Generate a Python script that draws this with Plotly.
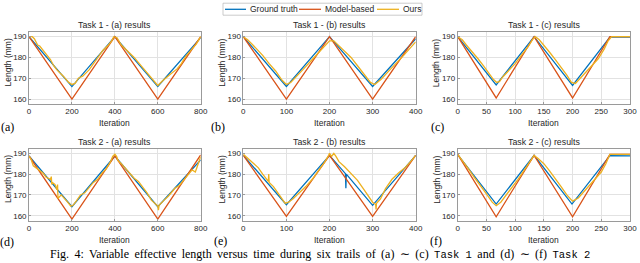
import plotly.graph_objects as go

W, H = 640, 263

# ---------------- data ----------------
# Task 1 - (a)
t1a_gt_x = [0, 200, 400, 600, 800]
t1a_gt_y = [190, 166, 190, 166, 189.5]
t1a_mb_x = [0, 200, 400, 600, 800]
t1a_mb_y = [190, 160, 190, 160, 190]
t1a_our_x = [0, 15, 25, 40, 50, 70, 100, 115, 130, 160, 185, 200, 215, 230, 250, 280, 300, 330, 345,
             370, 385, 395, 410, 430, 460, 490, 510, 530, 560, 590, 600, 620, 640, 660, 690, 710, 730,
             760, 780, 800]
t1a_our_y = [190, 190, 189, 186, 185.5, 183, 179, 176, 174, 171, 168, 167, 167.5, 170, 171, 174, 177,
             181, 183.5, 186, 188, 190, 189.5, 186, 183, 180, 177.5, 175, 171, 167.5, 166.5, 168.5,
             170.5, 172, 174.5, 177, 180.5, 184, 186.5, 190]

# Task 1 - (b)
t1b_gt_x = [0, 100, 200, 300, 400]
t1b_gt_y = [190, 166, 190, 166, 189]
t1b_mb_x = [0, 100, 200, 300, 400]
t1b_mb_y = [190, 160, 190, 160, 190]
t1b_our_x = [0, 10, 20, 30, 45, 60, 75, 90, 100, 110, 125, 140, 160, 175, 190, 200, 210, 220, 235,
             250, 265, 280, 295, 305, 320, 340, 355, 370, 385, 395, 400]
t1b_our_y = [190, 188.5, 186.5, 184.5, 181, 177, 173.5, 169, 167, 168, 171, 174.5, 179, 182.5, 186,
             188, 188, 186, 183, 180, 176, 172, 168, 167, 169.5, 174, 177, 180.5, 184, 186, 187.5]

# Task 1 - (c)
t1c_gt_x = [0, 67, 133, 200, 265, 300]
t1c_gt_y = [190, 166.8, 190, 166.5, 189.8, 189.8]
t1c_mb_x = [0, 67, 133, 200, 265, 300]
t1c_mb_y = [190, 160.5, 190, 160.5, 190, 190]
t1c_our_x = [0, 8, 15, 25, 35, 45, 55, 62, 68, 73, 78, 88, 100, 112, 122, 130, 135, 142, 150, 160,
             170, 180, 190, 198, 205, 215, 225, 235, 245, 255, 262, 268, 300]
t1c_our_y = [190, 188.5, 186, 183, 179.5, 176, 172.5, 169.5, 168, 168.5, 170.5, 173.5, 177, 181.5,
             185, 188.5, 190, 188.5, 186, 182.5, 179, 175.5, 171.5, 168, 167.5, 170.5, 173.5, 176.5,
             179.5, 184, 188, 190, 190]

# Task 2 - (a)
t2a_gt_x = [0, 200, 400, 600, 800]
t2a_gt_y = [188.7, 164.3, 188.7, 164.3, 186.8]
t2a_mb_x = [0, 200, 400, 600, 800]
t2a_mb_y = [188.7, 158.4, 188.7, 158.4, 189.2]
t2a_our_x = [0, 10, 20, 35, 50, 65, 80, 100, 104, 106, 108, 121, 130, 133, 135, 150, 165, 180, 195,
             205, 220, 240, 260, 280, 300, 320, 340, 360, 380, 390, 400, 408, 415, 430, 450, 470,
             490, 510, 530, 550, 570, 590, 600, 603, 606, 630, 650, 680, 700, 720, 740, 760, 775,
             790, 800]
t2a_our_y = [188.7, 187, 184, 182.8, 181.5, 180.5, 178.5, 177.5, 178.8, 175, 176, 175, 172.5, 175,
             168.3, 170, 168.5, 166.5, 164.6, 165, 167, 170, 171, 173.5, 176, 177.5, 180.5, 182.5,
             186, 188.5, 189.5, 188.5, 186.5, 185, 182.8, 180.5, 178, 176.5, 174, 171, 167.5,
             165.5, 164.6, 162.7, 165, 167.5, 169.5, 173.2, 174.5, 177, 179.5, 182, 181, 185.5,
             188.3]

# Task 2 - (b)
t2b_gt_x = [0, 100, 200, 237, 238, 239, 300, 400]
t2b_gt_y = [189, 165.3, 189, 180.2, 173.2, 180, 165, 189]
t2b_mb_x = [0, 100, 200, 300, 400]
t2b_mb_y = [189, 159.7, 189, 159.7, 189]
t2b_our_x = [0, 8, 15, 25, 35, 45, 55, 58, 59, 60, 70, 80, 90, 97, 100, 105, 115, 130, 145, 160,
             175, 188, 198, 200, 205, 210, 215, 222, 235, 250, 265, 280, 292, 300, 307, 308, 309,
             318, 330, 345, 360, 375, 390, 400]
t2b_our_y = [189.5, 188, 187, 185, 183, 180, 177, 176.5, 180, 176, 174, 171, 168.5, 166, 166.2,
             166.5, 168, 171, 174, 177.5, 181.5, 185.5, 189, 190, 188.5, 190, 188.5, 186, 183.5,
             180, 177, 172.5, 169, 166.5, 165.5, 163, 166, 168, 173, 177.5, 180.5, 183, 186.5, 189]

# Task 2 - (c)
t2c_gt_x = [0, 67, 133, 199, 265, 300]
t2c_gt_y = [189.4, 165.6, 189, 165.6, 188.9, 188.8]
t2c_mb_x = [0, 67, 133, 200, 265, 300]
t2c_mb_y = [189.5, 159.5, 189, 159.5, 189.5, 189.5]
t2c_our_x = [0, 10, 20, 30, 40, 50, 60, 67, 75, 85, 95, 105, 115, 125, 133, 140, 150, 160, 170, 180,
             190, 200, 210, 220, 230, 240, 250, 258, 265, 300]
t2c_our_y = [189.5, 186, 182, 178, 174.5, 170.5, 166.5, 164.8, 166.5, 170, 173.5, 177.5, 181.5,
             185.5, 189, 187.5, 185, 181.5, 178, 174, 170, 167, 168.5, 171.5, 174.5, 177.5, 181,
             185, 189.5, 189.5]

titles = ["Task 1 - (a) results", "Task 1 - (b) results", "Task 1 - (c) results",
          "Task 2 - (a) results", "Task 2 - (b) results", "Task 2 - (c) results"]
panel_letters = ["(a)", "(b)", "(c)", "(d)", "(e)", "(f)"]
x_max = [800, 400, 300, 800, 400, 300]
x_ticks = [[0, 200, 400, 600, 800], [0, 100, 200, 300, 400], [0, 50, 100, 150, 200, 250, 300]] * 2
y_ticks = [160, 170, 180, 190]
y_range = [157.6, 192.3]
series_names = ["Ground truth", "Model-based", "Ours"]
colors = ["#0072BD", "#D95319", "#EDB120"]

panels = [
    (t1a_gt_x, t1a_gt_y, t1a_mb_x, t1a_mb_y, t1a_our_x, t1a_our_y),
    (t1b_gt_x, t1b_gt_y, t1b_mb_x, t1b_mb_y, t1b_our_x, t1b_our_y),
    (t1c_gt_x, t1c_gt_y, t1c_mb_x, t1c_mb_y, t1c_our_x, t1c_our_y),
    (t2a_gt_x, t2a_gt_y, t2a_mb_x, t2a_mb_y, t2a_our_x, t2a_our_y),
    (t2b_gt_x, t2b_gt_y, t2b_mb_x, t2b_mb_y, t2b_our_x, t2b_our_y),
    (t2c_gt_x, t2c_gt_y, t2c_mb_x, t2c_mb_y, t2c_our_x, t2c_our_y),
]

# ---------------- layout geometry (pixels) ----------------
col_px = [(29, 200.7), (243.3, 415.7), (457.7, 630)]
row_px = [(31.9, 104), (148.5, 220.7)]


def px(x):
    return x / W


def py(y):
    return 1 - y / H


SANS = "Liberation Sans, Arial, sans-serif"
SERIF = "Liberation Serif, Times New Roman, serif"
MONO = "Liberation Mono, Courier New, monospace"
TXT = "#262626"

fig = go.Figure()
layout = dict(
    width=W, height=H, margin=dict(l=0, r=0, t=0, b=0),
    paper_bgcolor="white", plot_bgcolor="white", showlegend=False,
)
annotations = []
shapes = []

for i, data in enumerate(panels):
    r, c = divmod(i, 3)
    n = i + 1
    xa = "x" if n == 1 else f"x{n}"
    ya = "y" if n == 1 else f"y{n}"
    gx, gy, mx, my, ox, oy = data
    for (sx, sy), nm, col in zip([(gx, gy), (mx, my), (ox, oy)], series_names, colors):
        fig.add_trace(go.Scatter(x=sx, y=sy, mode="lines", name=nm, xaxis=xa, yaxis=ya,
                                 line=dict(color=col, width=1.3), showlegend=False))
    x0, x1 = col_px[c]
    y0, y1 = row_px[r]
    common = dict(showline=True, mirror=True, linecolor="#9a9a9a", linewidth=0.7,
                  showgrid=True, gridcolor="#e2e2e2", gridwidth=0.6, zeroline=False,
                  ticks="inside", ticklen=2, tickcolor="#9a9a9a", tickwidth=0.6,
                  ticklabeloverflow="allow",
                  tickfont=dict(family=SANS, size=8, color=TXT), automargin=False)
    layout["xaxis" if n == 1 else f"xaxis{n}"] = dict(
        domain=[px(x0), px(x1)], range=[0, x_max[i]], tickvals=x_ticks[i],
        anchor=ya, **common)
    layout["yaxis" if n == 1 else f"yaxis{n}"] = dict(
        domain=[py(y1), py(y0)], range=y_range, tickvals=y_ticks,
        anchor=xa, **common)
    cx = (x0 + x1) / 2
    cy = (y0 + y1) / 2
    annotations.append(dict(text=titles[i], x=px(cx), y=py(y0 - 6.5), xref="paper", yref="paper",
                            showarrow=False, xanchor="center", yanchor="middle",
                            font=dict(family=SANS, size=8.8, color=TXT)))
    annotations.append(dict(text="Iteration", x=px(cx), y=py(y1 + 19), xref="paper", yref="paper",
                            showarrow=False, xanchor="center", yanchor="middle",
                            font=dict(family=SANS, size=8.5, color=TXT)))
    annotations.append(dict(text="Length (mm)", x=px(x0 - 21.5), y=py(cy - 5), xref="paper",
                            yref="paper", showarrow=False, textangle=-90,
                            xanchor="center", yanchor="middle",
                            font=dict(family=SANS, size=8.5, color=TXT)))

letter_pos = [(7, 127), (218, 127), (437, 127), (7, 241.5), (220, 241), (436, 240.5)]
for lt, (lx, ly) in zip(panel_letters, letter_pos):
    annotations.append(dict(text=lt, x=px(lx), y=py(ly), xref="paper", yref="paper",
                            showarrow=False, xanchor="center", yanchor="middle",
                            font=dict(family=SERIF, size=12, color="black")))

# caption (justified in the paper, hence the wider word spacing)
caption = ("<span style='word-spacing:2.45px'>Fig. 4: Variable effective length versus time during "
           "six trails of (a) \u223c (c) </span>"
           f"<span style='font-family:{MONO};font-size:10.5px'>Task 1</span>"
           "<span style='word-spacing:2.45px'> and (d) \u223c (f) </span>"
           f"<span style='font-family:{MONO};font-size:10.5px'>Task 2</span>")
annotations.append(dict(text=caption, x=px(48), y=py(263.5), xref="paper", yref="paper",
                        showarrow=False, xanchor="left", yanchor="bottom",
                        font=dict(family=SERIF, size=12, color="black")))

# legend box (drawn manually to match the compact MATLAB legend)
shapes.append(dict(type="rect", xref="paper", yref="paper", x0=px(223), x1=px(422),
                   y0=py(15.2), y1=py(3.2), line=dict(color="#b5b5b5", width=0.7),
                   fillcolor="white", layer="above"))
leg_items = [(225, 246, 248), (299, 321, 323), (377, 399, 401)]
for (l0, l1, tx), nm, col in zip(leg_items, series_names, colors):
    shapes.append(dict(type="line", xref="paper", yref="paper", x0=px(l0), x1=px(l1),
                       y0=py(9.3), y1=py(9.3), line=dict(color=col, width=1.3), layer="above"))
    annotations.append(dict(text=nm, x=px(tx), y=py(9.3), xref="paper", yref="paper",
                            showarrow=False, xanchor="left", yanchor="middle",
                            font=dict(family=SANS, size=8.5, color=TXT)))

layout["annotations"] = annotations
layout["shapes"] = shapes
fig.update_layout(**layout)
fig.write_html("out.html", config={"displayModeBar": False},
               post_script="document.body.style.margin='0';document.body.style.padding='0';"
                           "document.body.style.overflow='hidden';")
